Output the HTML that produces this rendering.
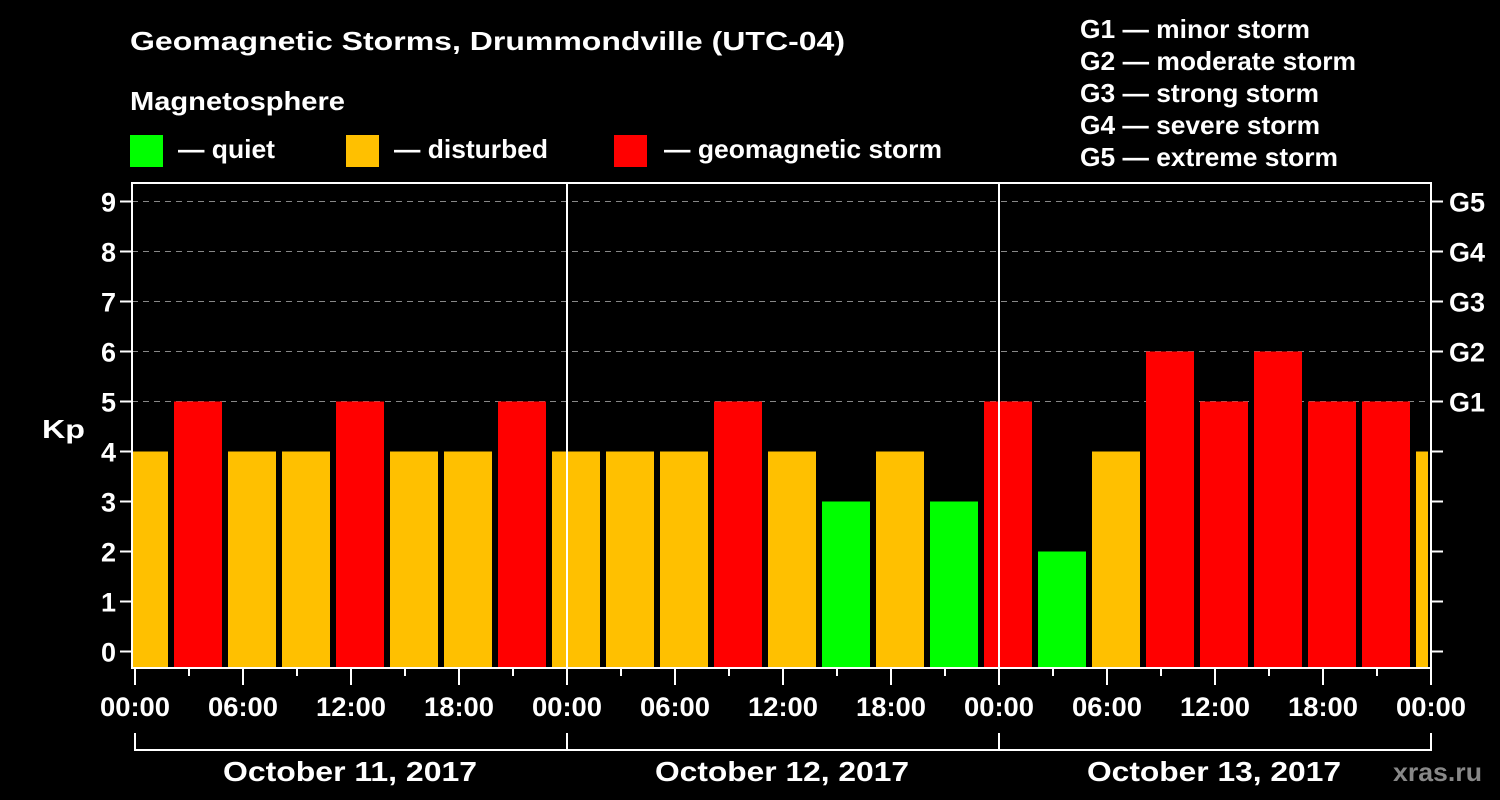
<!DOCTYPE html>
<html><head><style>body{margin:0;background:#000}svg{display:block}</style></head><body>
<svg width="1500" height="800" xmlns="http://www.w3.org/2000/svg" font-family="Liberation Sans, sans-serif" font-weight="bold" fill="#fff">
<rect width="1500" height="800" fill="#000"/>
<text x="130" y="50" font-size="26" textLength="715" lengthAdjust="spacingAndGlyphs">Geomagnetic Storms, Drummondville (UTC-04)</text>
<text x="130" y="110" font-size="26" textLength="215" lengthAdjust="spacingAndGlyphs">Magnetosphere</text>
<rect x="130" y="135" width="33" height="32" fill="#00ff00"/>
<text x="178" y="158" font-size="26" textLength="97" lengthAdjust="spacingAndGlyphs">— quiet</text>
<rect x="346" y="135" width="33" height="32" fill="#ffc000"/>
<text x="394" y="158" font-size="26" textLength="154" lengthAdjust="spacingAndGlyphs">— disturbed</text>
<rect x="614" y="135" width="33" height="32" fill="#ff0000"/>
<text x="664" y="158" font-size="26" textLength="278" lengthAdjust="spacingAndGlyphs">— geomagnetic storm</text>
<g font-size="26" lengthAdjust="spacingAndGlyphs">
<text x="1080" y="38" textLength="230" lengthAdjust="spacingAndGlyphs">G1 — minor storm</text>
<text x="1080" y="70" textLength="276" lengthAdjust="spacingAndGlyphs">G2 — moderate storm</text>
<text x="1080" y="102" textLength="239" lengthAdjust="spacingAndGlyphs">G3 — strong storm</text>
<text x="1080" y="134" textLength="240" lengthAdjust="spacingAndGlyphs">G4 — severe storm</text>
<text x="1080" y="166" textLength="258" lengthAdjust="spacingAndGlyphs">G5 — extreme storm</text>
</g>
<g stroke="#888" stroke-width="1" stroke-dasharray="6,5">
<line x1="132" y1="201.5" x2="1431" y2="201.5"/><line x1="132" y1="251.5" x2="1431" y2="251.5"/>
<line x1="132" y1="301.5" x2="1431" y2="301.5"/><line x1="132" y1="351.5" x2="1431" y2="351.5"/>
<line x1="132" y1="401.5" x2="1431" y2="401.5"/>
</g>
<g id="bars"></g>
<g stroke="#fff" stroke-width="2" fill="none">
<rect x="132" y="183" width="1299" height="485"/>
<line x1="567" y1="183" x2="567" y2="668"/><line x1="999" y1="183" x2="999" y2="668"/>
</g>
<g stroke="#fff" stroke-width="2" id="ticks"></g>
<g font-size="27" text-anchor="end" id="yl"></g>
<g font-size="27" id="gl"></g>
<text x="42" y="438" font-size="26" textLength="43" lengthAdjust="spacingAndGlyphs">Kp</text>
<g font-size="27" text-anchor="middle" id="xl"></g>
<g stroke="#fff" stroke-width="2" fill="none">
<path d="M135 733V750H1431V733M567 733V750M999 733V750"/>
</g>
<g font-size="28">
<text x="223" y="781" textLength="254" lengthAdjust="spacingAndGlyphs">October 11, 2017</text>
<text x="655" y="781" textLength="254" lengthAdjust="spacingAndGlyphs">October 12, 2017</text>
<text x="1087" y="781" textLength="254" lengthAdjust="spacingAndGlyphs">October 13, 2017</text>
</g>
<text x="1393" y="781" font-size="26" fill="#888" textLength="89" lengthAdjust="spacingAndGlyphs">xras.ru</text>
<script>
var ns="http://www.w3.org/2000/svg";
function el(p,t,a,txt){var e=document.createElementNS(ns,t);for(var k in a)e.setAttribute(k,a[k]);if(txt)e.textContent=txt;document.getElementById(p).appendChild(e);}
var v=[4,5,4,4,5,4,4,5,4,4,4,5,4,3,4,3,5,2,4,6,5,6,5,5,4];
v.forEach(function(k,i){var c=144+54*i;var x1=Math.max(133,c-24),x2=Math.min(1428,c+24);
var col=k>=5?"#ff0000":(k==4?"#ffc000":"#00ff00");
el("bars","rect",{x:x1,y:651.5-50*k,width:x2-x1,height:667-(651.5-50*k),fill:col});});
for(var k=0;k<=9;k++){var y=651.5-50*k;
el("ticks","line",{x1:120,y1:y,x2:132,y2:y});el("ticks","line",{x1:1431,y1:y,x2:1443,y2:y});
el("yl","text",{x:116,y:y+10},""+k);
if(k>=5)el("gl","text",{x:1449,y:y+10},"G"+(k-4));}
var lab=["00:00","06:00","12:00","18:00"];
for(var i=0;i<=24;i++){var x=135+54*i;
el("ticks","line",{x1:x,y1:668,x2:x,y2:i%2?676:685});
if(i%2==0)el("xl","text",{x:x,y:716,textLength:70,lengthAdjust:"spacingAndGlyphs"},lab[(i/2)%4]);}
</script>
</svg>
</body></html>
